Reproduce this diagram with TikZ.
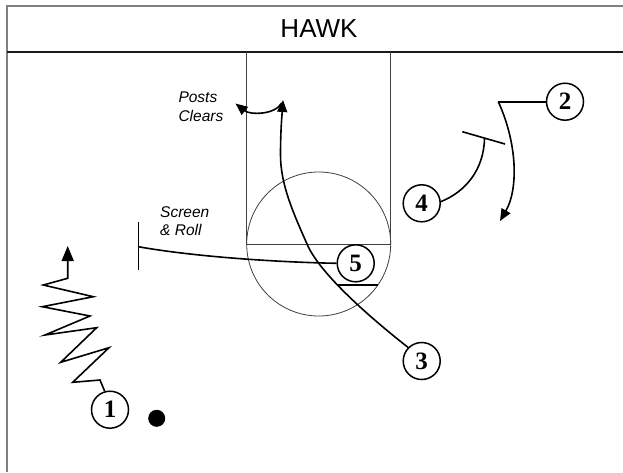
\documentclass[tikz,border=0pt]{standalone}
\usepackage{fontspec}
\setmainfont{Liberation Serif}
\setsansfont{Liberation Sans}
\usetikzlibrary{arrows.meta}
\begin{document}
\begin{tikzpicture}[x=1pt,y=-1pt,
  framegray/.style={draw=black!50,line width=1.3pt},
  court/.style={draw=black!75,line width=0.8pt},
  play/.style={draw=black,line width=1.6pt},
  tip/.style={-{Triangle[length=12pt,width=10pt]}},
  player/.style={circle,draw=black,line width=1.5pt,minimum size=37pt,inner sep=0pt,
    font=\fontsize{25}{25}\selectfont\bfseries},
  label/.style={inner sep=0pt,align=left,anchor=north west},
  ball/.style={circle,fill=black,minimum size=17pt,inner sep=0pt}]
\useasboundingbox (0,0) rectangle (623,472);
\fill[white] (0,0) rectangle (623,472);
% frame and header
\draw[framegray] (7,472) -- (7,6) -- (623,6);
\draw[line width=1.3pt,black!90] (7,52) -- (623,52);
\node[anchor=base,inner sep=0pt,font=\sffamily\fontsize{26}{26}\selectfont] (title) at (319,37.3) {HAWK};
% court
\draw[court] (246.7,52) -- (246.7,244) -- (390.7,244) -- (390.7,52);
\draw[court] (318.7,244) circle[radius=72];
% players
\node[player] (n1) at (110,409.7) {1};
\node[player] (n2) at (565,101.7) {2};
\node[player] (n3) at (421.7,361) {3};
\node[player] (n4) at (421.7,203.3) {4};
\node[player] (n5) at (355.7,263.3) {5};
\node[ball] (ball) at (156.7,418.3) {};
% labels
\node[label,font=\sffamily\itshape\fontsize{15.5}{19.3}\selectfont] (posts) at (178.3,91.7) {Posts\\Clears};
\node[label,font=\sffamily\itshape\fontsize{15.5}{18.3}\selectfont] (screen) at (160,206) {Screen\\\& Roll};
% coordinates
\coordinate (e1) at (67.7,246);
\coordinate (c2) at (498.3,101.7);
\coordinate (e2) at (500,221);
\coordinate (m3a) at (307,244);
\coordinate (m3b) at (280.5,155);
\coordinate (e3) at (283,100);
\coordinate (p0) at (281.7,103);
\coordinate (eposts) at (235.5,103.5);
\coordinate (s4a) at (462.3,131.7);
\coordinate (s4b) at (505,144);
\coordinate (s4) at (484.5,138.1);
\coordinate (s5a) at (138.3,221.7);
\coordinate (s5b) at (138.3,270);
\coordinate (s5) at (138.3,246.7);
\coordinate (u5a) at (336.7,285);
\coordinate (u5b) at (378.3,285);
% player 1 dribble
\draw[play,line join=miter,-{Triangle[length=15pt,width=12pt]}] (n1.106) -- (100,380) -- (72.7,382.3) -- (109,347.7) -- (60.7,362.3)
  -- (96.7,327.7) -- (45,335) -- (90,316) -- (42.3,306.7) -- (93.3,296.7)
  -- (43.3,285) -- (67.7,278.3) -- (e1);
% player 2 cut
\draw[play] (n2.west) -- (c2);
\draw[play,tip] (c2) .. controls (518,145) and (518,190) .. (e2);
% player 4 screen
\draw[play] (n4.5) .. controls (465,192) and (484,170) .. (s4);
\draw[play] (s4a) -- (s4b);
% player 3 cut
\draw[play,tip] (n3.135) .. controls (373,320) and (319.6,274) .. (m3a)
  .. controls (293.8,214) and (280.5,185) .. (m3b)
  .. controls (280.5,130) and (282,115) .. (e3);
% posts clear
\draw[play,tip] (p0) .. controls (275,115) and (250,115) .. (eposts);
% player 5 screen and roll
\draw[play] (n5.west) .. controls (270,262) and (190,256) .. (s5);
\draw[play] (s5a) -- (s5b);
\draw[play,line width=1.8pt] (u5a) -- (u5b);
\end{tikzpicture}
\end{document}
